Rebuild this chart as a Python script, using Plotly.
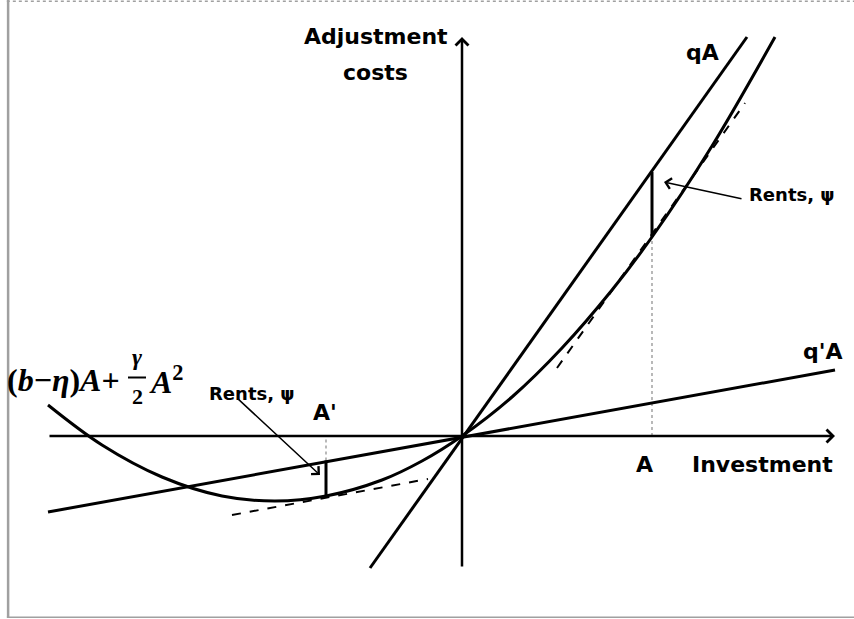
"""
Adjustment costs vs investment: quadratic cost curve, the qA and q'A lines,
tangents and the rents at A and A'.
"""

import plotly.graph_objects as go

# ── Data (1 unit = 100 px, origin where the axes cross) ──

# cost curve (b-η)A + γ/2 A²
curve_x = [-4.14, -3.6, -3.0, -2.4, -1.87, -1.36, -0.8, -0.4, 0.0, 0.5, 1.0, 1.5, 1.9, 2.5, 3.13]
curve_y = [0.31, -0.09, -0.41, -0.60, -0.65, -0.60, -0.44, -0.25, 0.0, 0.39, 0.88, 1.46, 1.99, 2.90, 3.99]

# straight lines through the origin
qa_x  = [-0.92, 2.85]
qa_y  = [-1.32, 3.99]
qpa_x = [-4.14, 3.73]
qpa_y = [-0.76, 0.66]

# dashed tangents
tan_left_x  = [-2.30, -0.34]
tan_left_y  = [-0.79, -0.43]
tan_right_x = [0.95, 2.83]
tan_right_y = [0.68, 3.33]

# rents segments and dotted drops to the axis
rent_a_x,  rent_a_y  = [1.90, 1.90], [1.99, 2.64]
drop_a_x,  drop_a_y  = [1.90, 1.90], [0.0, 1.99]
rent_a2_x, rent_a2_y = [-1.36, -1.36], [-0.60, -0.245]
drop_a2_x, drop_a2_y = [-1.36, -1.36], [-0.245, 0.0]

# axes extent
x_axis = [-4.14, 3.73]
y_axis = [-1.32, 3.99]

BLACK = "#000000"
BOLD  = "DejaVu Sans"
MATH  = "Liberation Serif"

fig = go.Figure()


def line(x, y, width=3.0, dash="solid", color=BLACK):
    fig.add_trace(go.Scatter(x=x, y=y, mode="lines", hoverinfo="skip", showlegend=False,
                             line=dict(color=color, width=width, dash=dash)))


# ── Curves ────────────────────────────────────────────────────────────────────

line(drop_a_x, drop_a_y, width=1.2, dash="dot", color="#8a8a8a")
line(drop_a2_x, drop_a2_y, width=1.2, dash="dot", color="#8a8a8a")
line(tan_left_x, tan_left_y, width=2, dash="dash")
line(tan_right_x, tan_right_y, width=2, dash="dash")
line(qa_x, qa_y)
line(qpa_x, qpa_y)
fig.add_trace(go.Scatter(x=curve_x, y=curve_y, mode="lines", hoverinfo="skip", showlegend=False,
                         line=dict(color=BLACK, width=3, shape="spline", smoothing=1.0)))
line(rent_a_x, rent_a_y)
line(rent_a2_x, rent_a2_y)


# ── Axes with arrows ──────────────────────────────────────────────────────────

def arrow(x0, y0, x1, y1, width=2.5, head=4, size=1.0):
    fig.add_annotation(x=x1, y=y1, ax=x0, ay=y0, xref="x", yref="y", axref="x", ayref="y",
                       text="", showarrow=True, arrowhead=head, arrowsize=size,
                       arrowwidth=width, arrowcolor=BLACK)


arrow(x_axis[0], 0, x_axis[1], 0)
arrow(0, y_axis[0], 0, y_axis[1])
arrow(2.81, 2.37, 2.02, 2.54, width=1.5, size=1.4)
arrow(-2.25, 0.38, -1.42, -0.39, width=1.5, size=1.4)


# ── Labels ────────────────────────────────────────────────────────────────────

def label(x, y, text, size=22, family=BOLD, xanchor="center"):
    fig.add_annotation(x=x, y=y, xref="x", yref="y", text=text, showarrow=False,
                       xanchor=xanchor, yanchor="middle",
                       font=dict(family=family, size=size, color=BLACK, weight="bold"))


label(-0.86, 4.00, "Adjustment")
label(-0.87, 3.64, "costs")
label(2.40, 3.84, "qA")
label(3.61, 0.85, "q'A")
label(1.82, -0.28, "A")
label(3.00, -0.28, "Investment")
label(-1.37, 0.24, "A'")
label(3.30, 2.42, "Rents, ψ", size=18)
label(-2.10, 0.43, "Rents, ψ", size=18)

# formula (b−η)A + γ/2 A²
label(-4.57, 0.56, "(<i>b</i>−<i>η</i>)<i>A</i>+", size=32, family=MATH, xanchor="left")
label(-3.25, 0.79, "<i>γ</i>", size=24, family=MATH)
label(-3.25, 0.40, "2", size=22, family=MATH)
label(-3.15, 0.56, "<i>A</i><sup>2</sup>", size=32, family=MATH, xanchor="left")
line([-3.34, -3.16], [0.585, 0.585], width=2)


# ── Layout ────────────────────────────────────────────────────────────────────

frame = dict(color="#a0a0a0", width=1.5)
fig.add_shape(type="line", xref="paper", yref="paper", x0=0.008, x1=1, y0=0.998, y1=0.998,
              line=dict(frame, dash="dot"))
fig.add_shape(type="line", xref="paper", yref="paper", x0=0.0095, x1=0.0095, y0=0.003, y1=1,
              line=dict(color="#a0a0a0", width=2.5))
fig.add_shape(type="line", xref="paper", yref="paper", x0=0.008, x1=1, y0=0.003, y1=0.003,
              line=frame)

fig.update_layout(
    width=854, height=619,
    margin=dict(l=0, r=0, t=0, b=0),
    paper_bgcolor="white", plot_bgcolor="white",
    xaxis=dict(range=[-4.62, 3.92], visible=False, fixedrange=True),
    yaxis=dict(range=[-1.83, 4.36], visible=False, fixedrange=True),
)

# page body margin would push the figure 8 px off the window
fig.write_html("out.html", config={"displayModeBar": False},
               post_script="document.body.style.margin = '0';")
